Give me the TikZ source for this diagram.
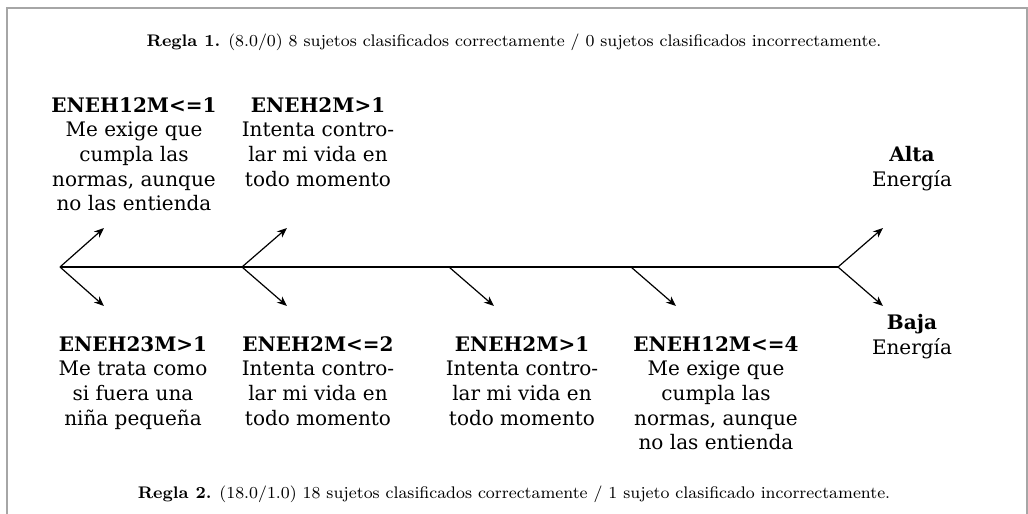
\documentclass[tikz,border=0pt]{standalone}
\usepackage{fontspec}
\newfontfamily\labelfont{DejaVu Serif}
\usetikzlibrary{arrows.meta}
\begin{document}
\begin{tikzpicture}[x=0.5pt, y=-0.5pt,
    lbl/.style={align=center, anchor=north, inner sep=0pt, font=\labelfont\fontsize{10}{12.3}\selectfont},
    rule/.style={font=\fontsize{8.4}{10}\selectfont, inner sep=0pt},
    arr/.style={-{Stealth[length=5pt,width=4pt]}, line width=0.6pt}]
  \useasboundingbox (0,0) rectangle (1028,514);
  \draw[gray!70, line width=1pt] (7,514) -- (7,8) -- (1027,8) -- (1027,514);
  \node[rule] (r1) at (514,42) {\textbf{Regla 1.} (8.0/0) 8 sujetos clasificados correctamente / 0 sujetos clasificados incorrectamente.};
  \node[rule] (r2) at (514,494) {\textbf{Regla 2.} (18.0/1.0) 18 sujetos clasificados correctamente / 1 sujeto clasificado incorrectamente.};
  % spine
  \coordinate (v1) at (60,267);
  \coordinate (v2) at (242,267);
  \coordinate (v3) at (449,267);
  \coordinate (v4) at (631,267);
  \coordinate (v5) at (838,267);
  \draw[line width=0.6pt] (v1) -- (v5);
  % labels
  \node[lbl] (u1) at (134,97) {\textbf{ENEH12M<=1}\\Me exige que\\cumpla las\\normas, aunque\\no las entienda};
  \node[lbl] (u2) at (318,97) {\textbf{ENEH2M>1}\\Intenta contro-\\lar mi vida en\\todo momento};
  \node[lbl] (d1) at (133,336) {\textbf{ENEH23M>1}\\Me trata como\\si fuera una\\niña pequeña};
  \node[lbl] (d2) at (318,336) {\textbf{ENEH2M<=2}\\Intenta contro-\\lar mi vida en\\todo momento};
  \node[lbl] (d3) at (522,336) {\textbf{ENEH2M>1}\\Intenta contro-\\lar mi vida en\\todo momento};
  \node[lbl] (d4) at (716,336) {\textbf{ENEH12M<=4}\\Me exige que\\cumpla las\\normas, aunque\\no las entienda};
  \node[lbl] (alta) at (912,146) {\textbf{Alta}\\Energía};
  \node[lbl] (baja) at (912,314) {\textbf{Baja}\\Energía};
  % branches
  \draw[arr] (v1) -- (104,228);
  \draw[arr] (v1) -- (104,306);
  \draw[arr] (v2) -- (287,228);
  \draw[arr] (v2) -- (287,306);
  \draw[arr] (v3) -- (494,306);
  \draw[arr] (v4) -- (676,306);
  \draw[arr] (v5) -- (883,228);
  \draw[arr] (v5) -- (883,306);
\end{tikzpicture}
\end{document}
